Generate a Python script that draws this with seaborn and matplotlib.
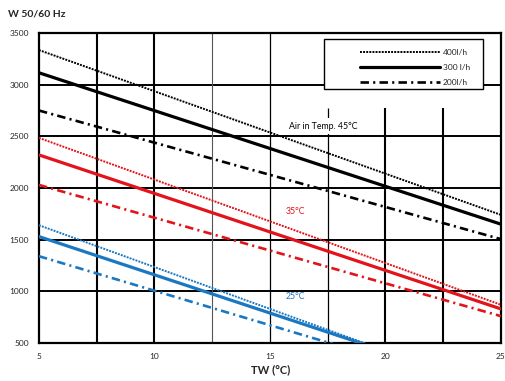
import matplotlib
matplotlib.use("Agg")
import matplotlib.pyplot as plt
from matplotlib.lines import Line2D
from matplotlib.patches import Rectangle
import seaborn as sns
import pandas as pd

# water temperature range (x) and power values at the two ends of each line
tw = [5, 25]
flows = ['400l/h', '300 l/h', '200l/h']
air_temps = ['45°C', '35°C', '25°C']

w_45 = {'400l/h': [3335, 1740], '300 l/h': [3115, 1650], '200l/h': [2750, 1505]}
w_35 = {'400l/h': [2485, 870], '300 l/h': [2320, 830], '200l/h': [2030, 760]}
w_25 = {'400l/h': [1640, 20], '300 l/h': [1530, 50], '200l/h': [1340, 5]}

rows = []
for temp, vals in zip(air_temps, [w_45, w_35, w_25]):
    for fl in flows:
        for x, y in zip(tw, vals[fl]):
            rows.append({'TW': x, 'W': y, 'air': temp, 'flow': fl})
df = pd.DataFrame(rows)

colors = {'45°C': 'black', '35°C': '#e3131b', '25°C': '#1a78c2'}
dashes = {'400l/h': (1, 0.6), '300 l/h': '', '200l/h': (3.2, 1.6, 0.8, 1.6)}
widths = {'400l/h': 1.4, '300 l/h': 2.3, '200l/h': 1.9}

sns.set_style('white')
plt.rcParams['font.family'] = ['Lato', 'DejaVu Sans']

fig = plt.figure(figsize=(5.06, 3.81), dpi=100)
ax = fig.add_axes([0.077, 0.0997, 0.913, 0.8137])

# grid drawn by hand (some lines are hidden behind the legend area)
for y in [1000, 1500, 2000, 2500, 3000]:
    ax.axhline(y, color='black', lw=1.4, zorder=1)
grid_x = [7.5, 10, 12.5, 15, 17.5, 20, 22.5]
grid_w = [1.5, 1.5, 0.8, 0.9, 0.9, 1.5, 1.5]
grid_c = ['black', 'black', '#555555', 'black', 'black', 'black', 'black']
grid_top = [3500, 3500, 3500, 3500, 2770, 2770, 2770]
for x, lw, c, top in zip(grid_x, grid_w, grid_c, grid_top):
    ax.vlines(x, 500, top, color=c, lw=lw, zorder=1)

sns.lineplot(data=df, x='TW', y='W', hue='air', style='flow', size='flow',
             palette=colors, dashes=dashes, sizes=widths, legend=False,
             ax=ax, zorder=3)

ax.set_xlim(5, 25)
ax.set_ylim(500, 3500)
ax.set_xticks([5, 10, 15, 20, 25])
ax.set_yticks([500, 1000, 1500, 2000, 2500, 3000, 3500])
ax.tick_params(axis='both', labelsize=6, length=0, pad=7)
for s in ax.spines.values():
    s.set_color('black')
    s.set_linewidth(1.6)
ax.set_xlabel('')
ax.set_ylabel('')

fig.text(0.016, 0.962, 'W 50/60 Hz', fontsize=7.5, fontweight='bold', va='center')
fig.text(0.535, 0.03, 'TW (°C)', fontsize=8, fontweight='bold', ha='center', va='center')

ax.text(17.3, 2600, 'Air in Temp. 45°C', fontsize=6.3, ha='center', va='center',
        color='black', bbox=dict(facecolor='white', edgecolor='none', pad=2.5), zorder=2)
ax.text(16.1, 1770, '35°C', fontsize=6.3, ha='center', va='center', color=colors['35°C'], zorder=2)
ax.text(16.1, 950, '25°C', fontsize=6.3, ha='center', va='center', color=colors['25°C'], zorder=2)

# legend box
box = Rectangle((0.617, 0.819), 0.344, 0.162, transform=ax.transAxes,
                facecolor='white', edgecolor='black', lw=1.0, zorder=4)
ax.add_patch(box)
handles = [Line2D([], [], color='black', lw=widths[f],
                  dashes=dashes[f] if dashes[f] else (None, None)) for f in flows]
leg = ax.legend(handles, flows, loc='upper right', bbox_to_anchor=(0.937, 0.953),
                fontsize=6, handlelength=9.6, frameon=False,
                borderpad=0.2, labelspacing=0.95, handletextpad=0.3,
                borderaxespad=0)
leg.set_zorder(5)

fig.savefig('out.png', dpi=100)
